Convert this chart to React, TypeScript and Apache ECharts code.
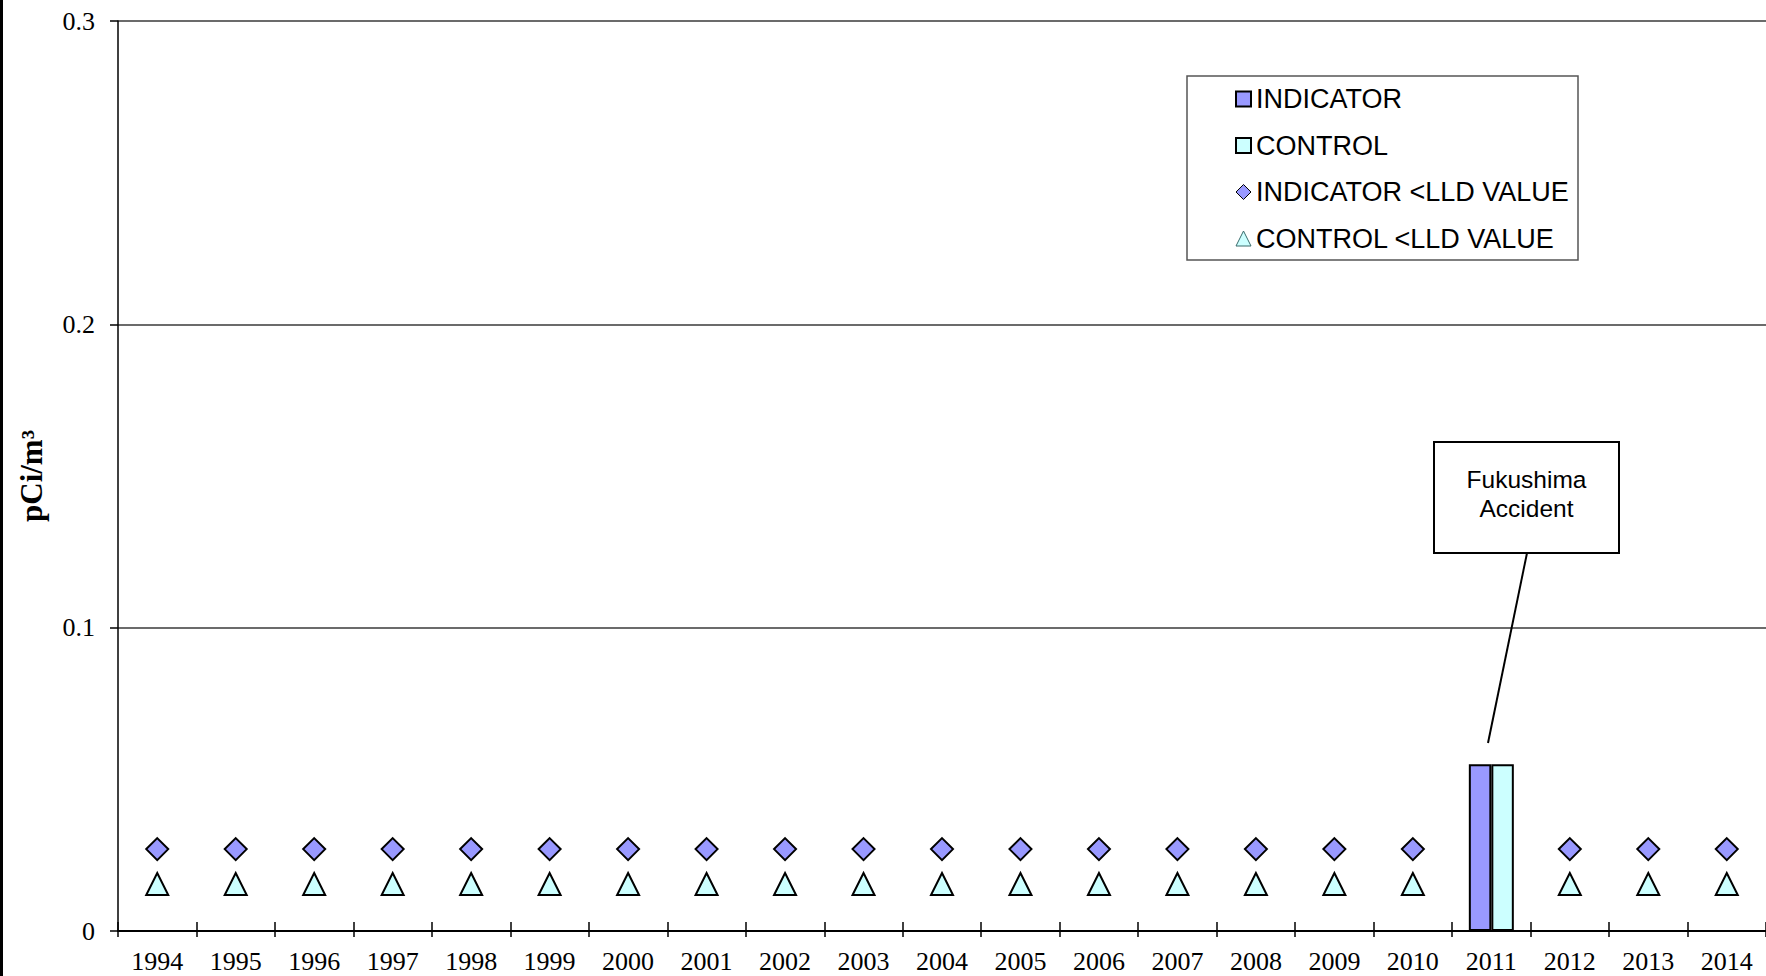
import React, { useEffect, useRef } from "react";
import * as echarts from "echarts";

const years = ["1994","1995","1996","1997","1998","1999","2000","2001","2002","2003","2004","2005","2006","2007","2008","2009","2010","2011","2012","2013","2014"];
const indicator = ["-","-","-","-","-","-","-","-","-","-","-","-","-","-","-","-","-",0.055,"-","-","-"];
const control = ["-","-","-","-","-","-","-","-","-","-","-","-","-","-","-","-","-",0.055,"-","-","-"];
const indicatorLLD = [0.027,0.027,0.027,0.027,0.027,0.027,0.027,0.027,0.027,0.027,0.027,0.027,0.027,0.027,0.027,0.027,0.027,"-",0.027,0.027,0.027];
const controlLLD = [0.0155,0.0155,0.0155,0.0155,0.0155,0.0155,0.0155,0.0155,0.0155,0.0155,0.0155,0.0155,0.0155,0.0155,0.0155,0.0155,0.0155,"-",0.0155,0.0155,0.0155];
const yTicks = { min: 0, max: 0.3, interval: 0.1 };
const seriesNames = ["INDICATOR", "CONTROL", "INDICATOR <LLD VALUE", "CONTROL <LLD VALUE"];
const annotationText = "Fukushima\nAccident";
const yTitle = "pCi/m³";

const SERIF = "'Liberation Serif', 'Times New Roman', serif";
const SANS = "'Liberation Sans', Arial, sans-serif";
const BLUE = "#9999FF";
const CYAN = "#CCFFFF";

export default function App() {
  const ref = useRef<HTMLDivElement>(null);
  useEffect(() => {
    document.body.style.margin = "0";
    const chart = echarts.init(ref.current!, null, { renderer: "svg" });
    chart.setOption({
      animation: false,
      backgroundColor: "#fff",
      grid: { left: 118, top: 21, width: 1650, height: 910 },
      legend: {
        orient: "vertical",
        left: 1235,
        top: 85.5,
        itemWidth: 15,
        itemHeight: 15,
        itemGap: 19.5,
        padding: 0,
        selectedMode: false,
        textStyle: { fontFamily: SANS, fontSize: 27, color: "#000", lineHeight: 27 },
        data: [
          { name: seriesNames[0], icon: "rect" },
          { name: seriesNames[1], icon: "rect" },
          { name: seriesNames[2], icon: "diamond", itemStyle: { borderWidth: 1 } },
          { name: seriesNames[3], icon: "triangle", itemStyle: { borderWidth: 1, borderColor: "#3a6b6b" } },
        ],
      },
      xAxis: [
        {
          type: "category",
          data: years,
          position: "bottom",
          axisLine: { lineStyle: { color: "#000", width: 2 } },
          axisTick: { show: true, inside: false, length: 6, lineStyle: { color: "#000", width: 1.5 } },
          axisLabel: { fontFamily: SERIF, fontSize: 26, color: "#000", margin: 17 },
          splitLine: { show: false },
        },
        {
          type: "category",
          data: years,
          position: "bottom",
          axisLine: { show: false },
          axisTick: { show: true, inside: true, length: 9, lineStyle: { color: "#000", width: 1.5 } },
          axisLabel: { show: false },
          splitLine: { show: false },
        },
      ],
      yAxis: {
        type: "value",
        min: yTicks.min,
        max: yTicks.max,
        interval: yTicks.interval,
        name: yTitle,
        nameLocation: "middle",
        nameRotate: 90,
        nameGap: 71,
        nameTextStyle: { fontFamily: SERIF, fontSize: 31, fontWeight: "bold", color: "#000" },
        axisLine: { show: true, lineStyle: { color: "#000", width: 1.5 } },
        axisTick: { show: true, inside: false, length: 8, lineStyle: { color: "#000", width: 1.5 } },
        axisLabel: { fontFamily: SERIF, fontSize: 26, color: "#000", margin: 23 },
        splitLine: { show: true, lineStyle: { color: "#3a3a3a", width: 1.5 } },
      },
      series: [
        {
          name: seriesNames[0],
          type: "bar",
          data: indicator,
          barWidth: 22.5,
          barGap: "0%",
          itemStyle: { color: BLUE, borderColor: "#000", borderWidth: 2 },
        },
        {
          name: seriesNames[1],
          type: "bar",
          data: control,
          barWidth: 22.5,
          barGap: "0%",
          itemStyle: { color: CYAN, borderColor: "#000", borderWidth: 2 },
        },
        {
          name: seriesNames[2],
          type: "scatter",
          data: indicatorLLD,
          symbol: "diamond",
          symbolSize: 22,
          itemStyle: { color: BLUE, borderColor: "#000", borderWidth: 2, opacity: 1 },
        },
        {
          name: seriesNames[3],
          type: "scatter",
          data: controlLLD,
          symbol: "triangle",
          symbolSize: 22,
          itemStyle: { color: CYAN, borderColor: "#000", borderWidth: 2, opacity: 1 },
        },
      ],
      graphic: [
        { type: "rect", left: 0, top: 0, shape: { width: 3, height: 976 }, style: { fill: "#000" }, z: 100 },
        {
          type: "rect",
          shape: { x: 1187, y: 76, width: 391, height: 184 },
          style: { fill: "#fff", stroke: "#555", lineWidth: 1.5 },
          z: -1,
          silent: true,
        },
        {
          type: "line",
          shape: { x1: 1527, y1: 553, x2: 1488, y2: 743 },
          style: { stroke: "#000", lineWidth: 2 },
          z: 50,
        },
        {
          type: "rect",
          shape: { x: 1434, y: 442, width: 185, height: 111 },
          style: { fill: "#fff", stroke: "#000", lineWidth: 2 },
          z: 50,
        },
        {
          type: "text",
          x: 1526.5,
          y: 494,
          style: {
            text: annotationText,
            fontFamily: SANS,
            fontSize: 24.5,
            lineHeight: 29,
            fill: "#000",
            align: "center",
            verticalAlign: "middle",
          },
          z: 51,
        },
      ],
    });
    return () => chart.dispose();
  }, []);
  return <div ref={ref} style={{ width: 1766, height: 976 }} />;
}
